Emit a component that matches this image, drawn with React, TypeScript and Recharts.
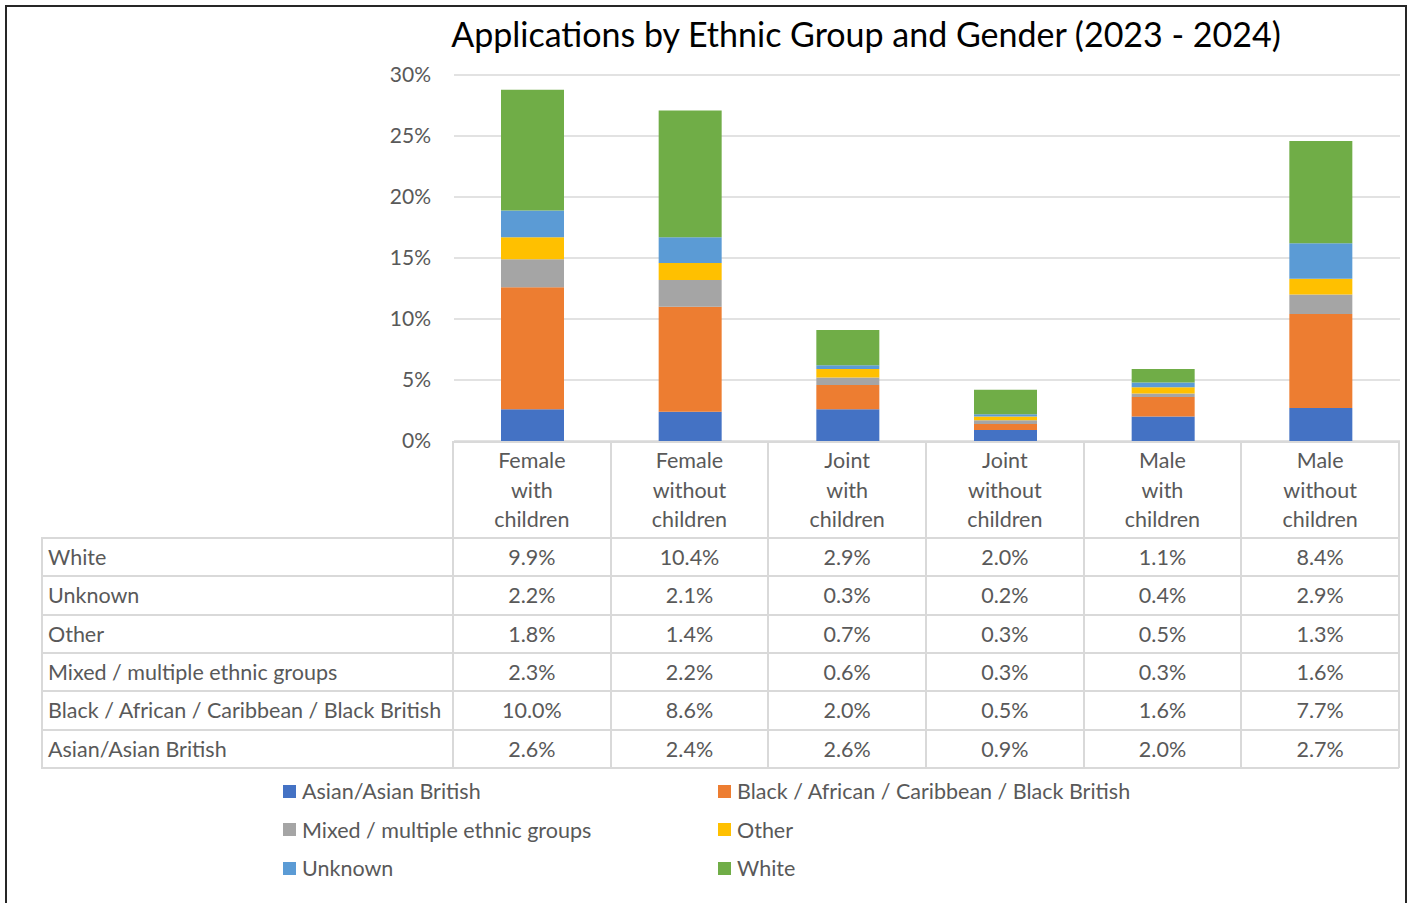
import { BarChart, Bar, XAxis, YAxis, CartesianGrid } from 'recharts'

const categories = [
  'Female with children',
  'Female without children',
  'Joint with children',
  'Joint without children',
  'Male with children',
  'Male without children',
]

// percentages per ethnic group, one value per category
const asian = [2.6, 2.4, 2.6, 0.9, 2.0, 2.7]
const black = [10.0, 8.6, 2.0, 0.5, 1.6, 7.7]
const mixed = [2.3, 2.2, 0.6, 0.3, 0.3, 1.6]
const other = [1.8, 1.4, 0.7, 0.3, 0.5, 1.3]
const unknown = [2.2, 2.1, 0.3, 0.2, 0.4, 2.9]
const white = [9.9, 10.4, 2.9, 2.0, 1.1, 8.4]

const yTicks = [0, 5, 10, 15, 20, 25, 30]

const series = [
  { key: 'asian', name: 'Asian/Asian British', values: asian, color: '#4472C4' },
  { key: 'black', name: 'Black / African / Caribbean / Black British', values: black, color: '#ED7D31' },
  { key: 'mixed', name: 'Mixed / multiple ethnic groups', values: mixed, color: '#A5A5A5' },
  { key: 'other', name: 'Other', values: other, color: '#FFC000' },
  { key: 'unknown', name: 'Unknown', values: unknown, color: '#5B9BD5' },
  { key: 'white', name: 'White', values: white, color: '#70AD47' },
]

const FONT = 'Lato, "Open Sans", sans-serif'
const FS = 21.5
const TEXT = '#595959'
const LINE = '#D9D9D9'

const PLOT_LEFT = 453
const PLOT_RIGHT = 1399
const PLOT_TOP = 75
const PLOT_BOTTOM = 441
const CHART_W = 1413
const CHART_H = 460
const COL_W = (PLOT_RIGHT - PLOT_LEFT) / categories.length
const HEADER_H = 97
const ROW_H = 38.3
const LABEL_LEFT = 42

export default function App() {
  const data = categories.map((cat, i) => {
    const row: Record<string, any> = { cat }
    series.forEach((s) => {
      row[s.key] = s.values[i]
    })
    return row
  })

  // data table rows, top to bottom (reverse of the stack order)
  const tableRows = [...series].reverse()

  return (
    <div style={{ position: 'absolute', left: 0, top: 0, width: 1413, height: 903, overflow: 'hidden', background: '#fff', fontFamily: FONT }}>
      <div style={{ position: 'absolute', left: 5, top: 5, width: 1398, height: 940, border: '2px solid #262626' }} />

      <div
        style={{
          position: 'absolute',
          left: 866,
          top: 14,
          transform: 'translateX(-50%)',
          fontSize: 34,
          color: '#000',
          whiteSpace: 'nowrap',
          lineHeight: '40px',
        }}
      >
        Applications by Ethnic Group and Gender (2023 - 2024)
      </div>

      <div style={{ position: 'absolute', left: 1, top: 0 }}>
        <BarChart
          width={CHART_W}
          height={CHART_H}
          data={data}
          margin={{ top: PLOT_TOP, right: CHART_W - PLOT_RIGHT, bottom: CHART_H - PLOT_BOTTOM, left: PLOT_LEFT - 80 }}
          barSize={63}
        >
          <CartesianGrid vertical={false} stroke={LINE} strokeWidth={1.5} />
          <XAxis dataKey="cat" hide />
          <YAxis
            width={80}
            domain={[0, 30]}
            ticks={yTicks}
            interval={0}
            axisLine={false}
            tickLine={false}
            tickSize={0}
            tickMargin={23}
            tick={{ fontSize: 21, fill: TEXT, fontFamily: FONT }}
            tickFormatter={(v) => `${v}%`}
          />
          {series.map((s) => (
            <Bar key={s.key} dataKey={s.key} name={s.name} stackId="a" fill={s.color} isAnimationActive={false} />
          ))}
        </BarChart>
      </div>

      {/* data table under the plot */}
      <div style={{ position: 'absolute', left: PLOT_LEFT, top: PLOT_BOTTOM, width: PLOT_RIGHT - PLOT_LEFT, height: 2, background: LINE }} />
      {categories.map((cat, i) => (
        <div
          key={cat}
          style={{
            position: 'absolute',
            left: PLOT_LEFT + i * COL_W,
            top: PLOT_BOTTOM,
            width: COL_W,
            height: HEADER_H,
            display: 'flex',
            flexDirection: 'column',
            alignItems: 'center',
            paddingTop: 5,
            boxSizing: 'border-box',
            fontSize: FS,
            color: TEXT,
            lineHeight: '29.5px',
          }}
        >
          {cat.split(' ').map((w, j) => (
            <div key={j}>{w}</div>
          ))}
        </div>
      ))}
      {categories.map((_, i) => (
        <div key={'v' + i} style={{ position: 'absolute', left: PLOT_LEFT + i * COL_W - 1, top: PLOT_BOTTOM, width: 2, height: HEADER_H + ROW_H * 6, background: LINE }} />
      ))}
      <div style={{ position: 'absolute', left: PLOT_RIGHT - 1, top: PLOT_BOTTOM, width: 2, height: HEADER_H + ROW_H * 6, background: LINE }} />
      <div style={{ position: 'absolute', left: LABEL_LEFT - 1, top: PLOT_BOTTOM + HEADER_H, width: 2, height: ROW_H * 6, background: LINE }} />
      {[0, 1, 2, 3, 4, 5, 6].map((r) => (
        <div key={'h' + r} style={{ position: 'absolute', left: LABEL_LEFT - 1, top: PLOT_BOTTOM + HEADER_H + r * ROW_H - 1, width: PLOT_RIGHT - LABEL_LEFT + 1, height: 2, background: LINE }} />
      ))}
      {tableRows.map((s, r) => (
        <div key={s.key}>
          <div
            style={{
              position: 'absolute',
              left: LABEL_LEFT + 6,
              top: PLOT_BOTTOM + HEADER_H + r * ROW_H,
              height: ROW_H,
              lineHeight: ROW_H + 'px',
              fontSize: FS,
              color: TEXT,
              whiteSpace: 'nowrap',
            }}
          >
            {s.name}
          </div>
          {s.values.map((v, i) => (
            <div
              key={i}
              style={{
                position: 'absolute',
                left: PLOT_LEFT + i * COL_W,
                width: COL_W,
                top: PLOT_BOTTOM + HEADER_H + r * ROW_H,
                height: ROW_H,
                lineHeight: ROW_H + 'px',
                textAlign: 'center',
                fontSize: FS,
                color: TEXT,
              }}
            >
              {v.toFixed(1)}%
            </div>
          ))}
        </div>
      ))}

      {/* legend, two columns */}
      {series.map((s, i) => (
        <div
          key={s.key}
          style={{
            position: 'absolute',
            left: i % 2 === 0 ? 283 : 718,
            top: 791 + Math.floor(i / 2) * 38.5 - 14,
            height: 28,
            display: 'flex',
            alignItems: 'center',
            fontSize: FS,
            color: TEXT,
            whiteSpace: 'nowrap',
          }}
        >
          <span style={{ display: 'inline-block', width: 13, height: 13, background: s.color, marginRight: 6 }} />
          {s.name}
        </div>
      ))}
    </div>
  )
}
